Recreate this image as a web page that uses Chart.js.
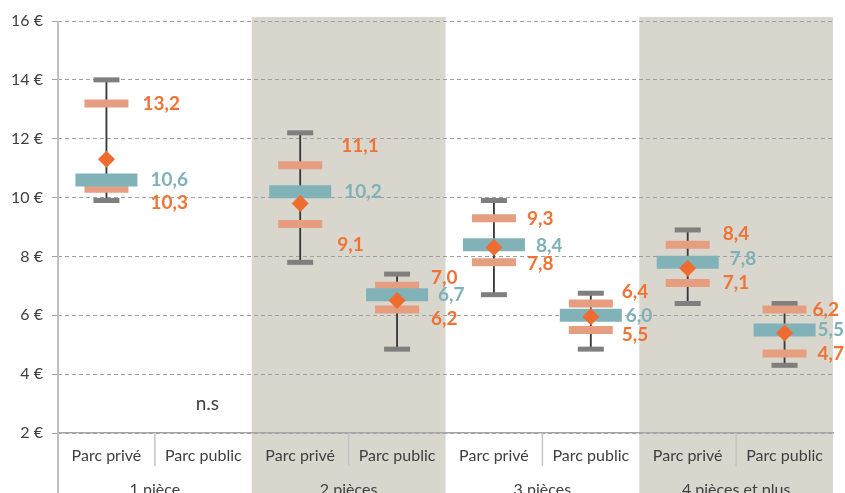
<!DOCTYPE html>
<html lang="fr">
<head>
<meta charset="utf-8">
<title>Loyers au m² selon le nombre de pièces</title>
<script src="https://cdn.jsdelivr.net/npm/chart.js@4.4.1/dist/chart.umd.min.js"></script>
<style>
  html, body { margin: 0; padding: 0; background: #fff; }
  canvas { display: block; }
</style>
</head>
<body>
<canvas id="chart" width="845" height="493"></canvas>
<script>
const subLabels = ['Parc privé', 'Parc public', 'Parc privé', 'Parc public',
                   'Parc privé', 'Parc public', 'Parc privé', 'Parc public'];
const groups = ['1 pièce', '2 pièces', '3 pièces', '4 pièces et plus'];

// whisker ends, quartile-style bars, median and mean (null = not significant)
const maxima  = [14.0, null, 12.2, 7.4, 9.9, 6.75, 8.9, 6.4];
const minima  = [9.9,  null, 7.8, 4.85, 6.7, 4.85, 6.4, 4.3];
const upper   = [13.2, null, 11.1, 7.0, 9.3, 6.4, 8.4, 6.2];
const medians = [10.6, null, 10.2, 6.7, 8.4, 6.0, 7.8, 5.5];
const lower   = [10.3, null, 9.1, 6.2, 7.8, 5.5, 7.1, 4.7];
const means   = [11.3, null, 9.8, 6.5, 8.3, 5.95, 7.6, 5.4];
const yTicks  = [2, 4, 6, 8, 10, 12, 14, 16];
const noteText = 'n.s';
const noteAt = { index: 1, value: 3 };

// label placement relative to each mark (pixels)
const upperDx = [36, 0, 41, 34, 33, 31, 35, 28];
const upperDy = [0, 0, -19, -8, 1, -12, -11, 0];
const medianDx = [44, 0, 44, 41, 42, 35, 42, 33];
const medianDy = [0, 0, 0, 0, 1, 1, -3, 0];
const lowerDx = [44, 0, 37, 34, 33, 31, 35, 33];
const lowerDy = [14, 0, 21, 9, 2, 5, 0, 0];

const BAND = '#d9d6ce';
const SALMON = '#e59e80';
const TEAL = '#80b2b8';
const ORANGE = '#ee6c30';
const ORANGE_TEXT = '#ef7335';
const TEAL_TEXT = '#7fb1b8';
const TEXT = '#404040';
const FONT = 'Lato, "DejaVu Sans", sans-serif';

const fmt = v => v.toFixed(1).replace('.', ',');

const marks = (data, color, radius, width, order) => ({
  type: 'line',
  data,
  showLine: false,
  pointStyle: 'line',
  pointRadius: radius,
  pointHoverRadius: radius,
  pointBorderWidth: width,
  pointHoverBorderWidth: width,
  pointBorderColor: color,
  pointBackgroundColor: color,
  order
});

const backdrop = {
  id: 'backdrop',
  beforeDraw(chart) {
    const { ctx, chartArea: area, scales: { x } } = chart;
    const step = (area.right - area.left) / subLabels.length;
    ctx.save();
    ctx.fillStyle = BAND;
    groups.forEach((g, i) => {
      if (i % 2 === 0) return;
      const left = x.getPixelForValue(i * 2) - step / 2;
      ctx.fillRect(left, area.top - 4, step * 2, chart.height - area.top + 4);
    });
    ctx.restore();
  },
  afterDraw(chart) {
    const { ctx, chartArea: area, scales: { x } } = chart;
    const step = (area.right - area.left) / subLabels.length;
    ctx.save();
    // left axis, running down through the label rows
    ctx.strokeStyle = '#bfbfbf';
    ctx.lineWidth = 2;
    ctx.beginPath();
    ctx.moveTo(area.left, area.top);
    ctx.lineTo(area.left, chart.height);
    ctx.stroke();
    // separators between the two sub labels of a group
    ctx.lineWidth = 1.5;
    ctx.strokeStyle = '#c4c4c4';
    groups.forEach((g, i) => {
      const sx = x.getPixelForValue(i * 2) + step / 2;
      ctx.beginPath();
      ctx.moveTo(sx, area.bottom);
      ctx.lineTo(sx, area.bottom + 33);
      ctx.stroke();
    });
    ctx.restore();
  }
};

const valueLabels = {
  id: 'valueLabels',
  afterDatasetsDraw(chart) {
    const { ctx, scales: { x, y } } = chart;
    ctx.save();
    ctx.textAlign = 'left';
    ctx.textBaseline = 'middle';
    ctx.font = 'bold 19px ' + FONT;
    const put = (values, dx, dy, color) => {
      ctx.fillStyle = color;
      values.forEach((v, i) => {
        if (v == null) return;
        ctx.fillText(fmt(v), x.getPixelForValue(i) + dx[i], y.getPixelForValue(v) + dy[i]);
      });
    };
    put(upper, upperDx, upperDy, ORANGE_TEXT);
    put(lower, lowerDx, lowerDy, ORANGE_TEXT);
    put(medians, medianDx, medianDy, TEAL_TEXT);

    ctx.font = '19px ' + FONT;
    ctx.fillStyle = TEXT;
    ctx.textAlign = 'center';
    ctx.fillText(noteText, x.getPixelForValue(noteAt.index) + 4, y.getPixelForValue(noteAt.value));
    ctx.restore();
  }
};

new Chart(document.getElementById('chart'), {
  type: 'bar',
  data: {
    labels: subLabels,
    datasets: [
      {
        type: 'bar',
        data: maxima.map((m, i) => (m == null ? null : [minima[i], m])),
        backgroundColor: '#3a3a3a',
        barThickness: 1.2,
        order: 6
      },
      marks(maxima, '#7f7f7f', 13, 5, 5),
      marks(minima, '#7f7f7f', 13, 5, 5),
      marks(upper, SALMON, 22, 8, 4),
      marks(lower, SALMON, 22, 8, 4),
      marks(medians, TEAL, 31, 13, 3),
      {
        type: 'line',
        data: means,
        showLine: false,
        pointStyle: 'rectRot',
        pointRadius: 8.5,
        pointHoverRadius: 8.5,
        pointBorderWidth: 0,
        pointBackgroundColor: ORANGE,
        order: 1
      }
    ]
  },
  options: {
    responsive: false,
    devicePixelRatio: 1,
    animation: false,
    events: [],
    layout: { autoPadding: false, padding: { top: 21, right: 12, left: 0, bottom: 0 } },
    plugins: { legend: { display: false }, tooltip: { enabled: false } },
    scales: {
      x: {
        type: 'category',
        offset: true,
        grid: { display: false, drawTicks: false },
        border: { color: '#a6a6a6', width: 1.5 },
        ticks: {
          color: TEXT, font: { family: FONT, size: 16 },
          padding: 13, maxRotation: 0, autoSkip: false
        },
        afterFit: s => { s.height = 32; }
      },
      x2: {
        type: 'category',
        labels: groups,
        position: 'bottom',
        offset: true,
        grid: { display: false, drawTicks: false },
        border: { display: false },
        ticks: {
          color: TEXT, font: { family: FONT, size: 16 },
          padding: 15, maxRotation: 0, autoSkip: false
        },
        afterFit: s => { s.height = 28; }
      },
      y: {
        min: yTicks[0],
        max: yTicks[yTicks.length - 1],
        afterBuildTicks: s => { s.ticks = yTicks.map(v => ({ value: v })); },
        grid: { color: '#a0a0a0', lineWidth: 1, tickLength: 6, tickColor: '#a0a0a0' },
        border: { display: false, dash: [4, 3] },
        ticks: {
          color: TEXT, font: { family: FONT, size: 16 },
          padding: 9,
          callback: v => v + ' €'
        },
        afterFit: s => { s.width = 58; }
      }
    }
  },
  plugins: [backdrop, valueLabels]
});
</script>
</body>
</html>
